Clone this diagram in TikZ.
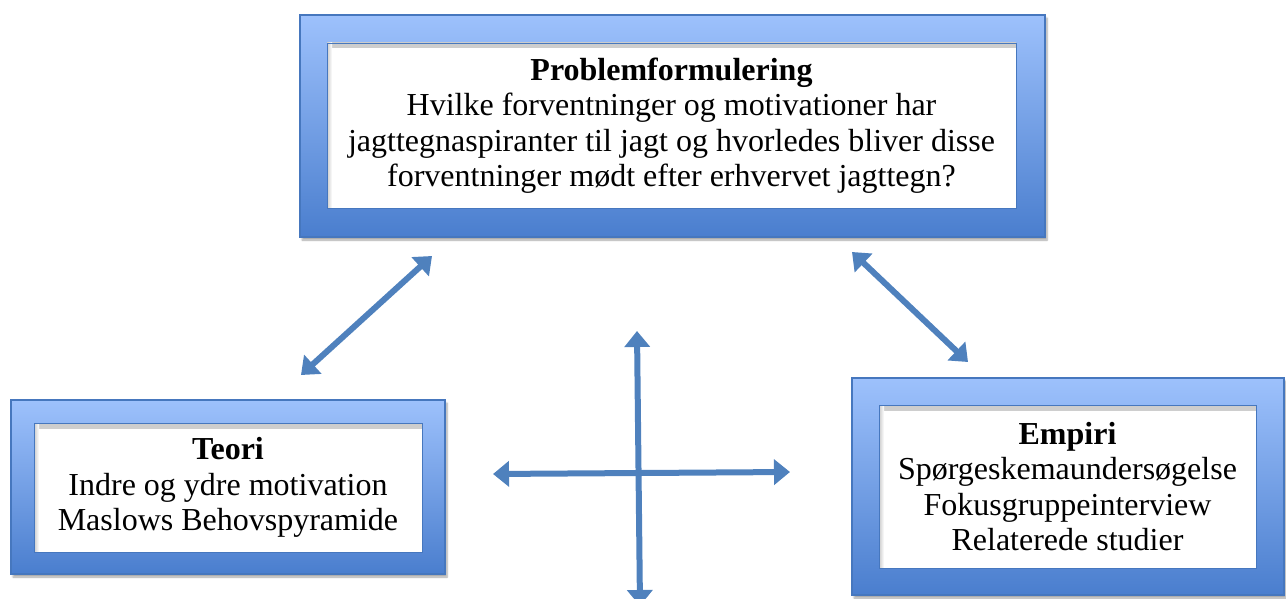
\documentclass[tikz,border=0pt]{standalone}
\usepackage{fontspec}
\setmainfont{Liberation Serif}
\usetikzlibrary{arrows.meta,shadows.blur}
\definecolor{arrowblue}{HTML}{4F81BD}
\definecolor{frametop}{HTML}{9DC1FC}
\definecolor{framebot}{HTML}{4A7ECE}
\definecolor{frameedge}{HTML}{4677BE}
\tikzset{
  frame/.style={draw=frameedge, line width=1.2pt, top color=frametop, bottom color=framebot,
    inner sep=0pt, blur shadow={shadow xshift=2pt, shadow yshift=-3pt, shadow blur steps=6, shadow opacity=35}},
  innerbox/.style={fill=white, draw=frameedge, line width=0.9pt, inner sep=0pt, align=center,
    font=\fontsize{32}{35.5}\selectfont,
    path picture={
      \shade[top color=black!20, bottom color=white] (path picture bounding box.north west) rectangle ([yshift=-5pt]path picture bounding box.north east);
      \shade[left color=black!20, right color=white] (path picture bounding box.north west) rectangle ([xshift=5pt]path picture bounding box.south west);
    }},
  conn/.style={draw=arrowblue, line width=6pt,
    {Triangle[width=25pt,length=16pt]}-{Triangle[width=25pt,length=16pt]}},
}
\begin{document}
\begin{tikzpicture}[x=1pt,y=-1pt]
\useasboundingbox (0,0) rectangle (1286,599);
% top box
\node[frame, minimum width=745pt, minimum height=222pt] (topframe) at (672.5,126) {};
\node[innerbox, minimum width=689pt, minimum height=165pt] (top) at (671.5,125.5)
  {\textbf{Problemformulering}\\Hvilke forventninger og motivationer har\\jagttegnaspiranter til jagt og hvorledes bliver disse\\forventninger mødt efter erhvervet jagttegn?};
% left box
\node[frame, minimum width=434pt, minimum height=174pt] (leftframe) at (228,487) {};
\node[innerbox, minimum width=388pt, minimum height=129pt] (left) at (228,487.5)
  {\textbf{Teori}\\Indre og ydre motivation\\Maslows Behovspyramide};
% right box
\node[frame, minimum width=432pt, minimum height=217pt] (rightframe) at (1068,486.5) {};
\node[innerbox, minimum width=377pt, minimum height=163pt] (right) at (1067.5,486.5)
  {\textbf{Empiri}\\Spørgeskemaundersøgelse\\Fokusgruppeinterview\\Relaterede studier};
% arrow end points
\coordinate (d1a) at (301,375);
\coordinate (d1b) at (432,256);
\coordinate (d2a) at (852,252);
\coordinate (d2b) at (968,362);
\coordinate (vt) at (637,331);
\coordinate (vb) at (640,606);
\coordinate (hl) at (493,474);
\coordinate (hr) at (790,472);
\draw[conn] (d1a) -- (d1b);
\draw[conn] (d2a) -- (d2b);
\draw[conn] (vt) -- (vb);
\draw[conn] (hl) -- (hr);
\end{tikzpicture}
\end{document}
